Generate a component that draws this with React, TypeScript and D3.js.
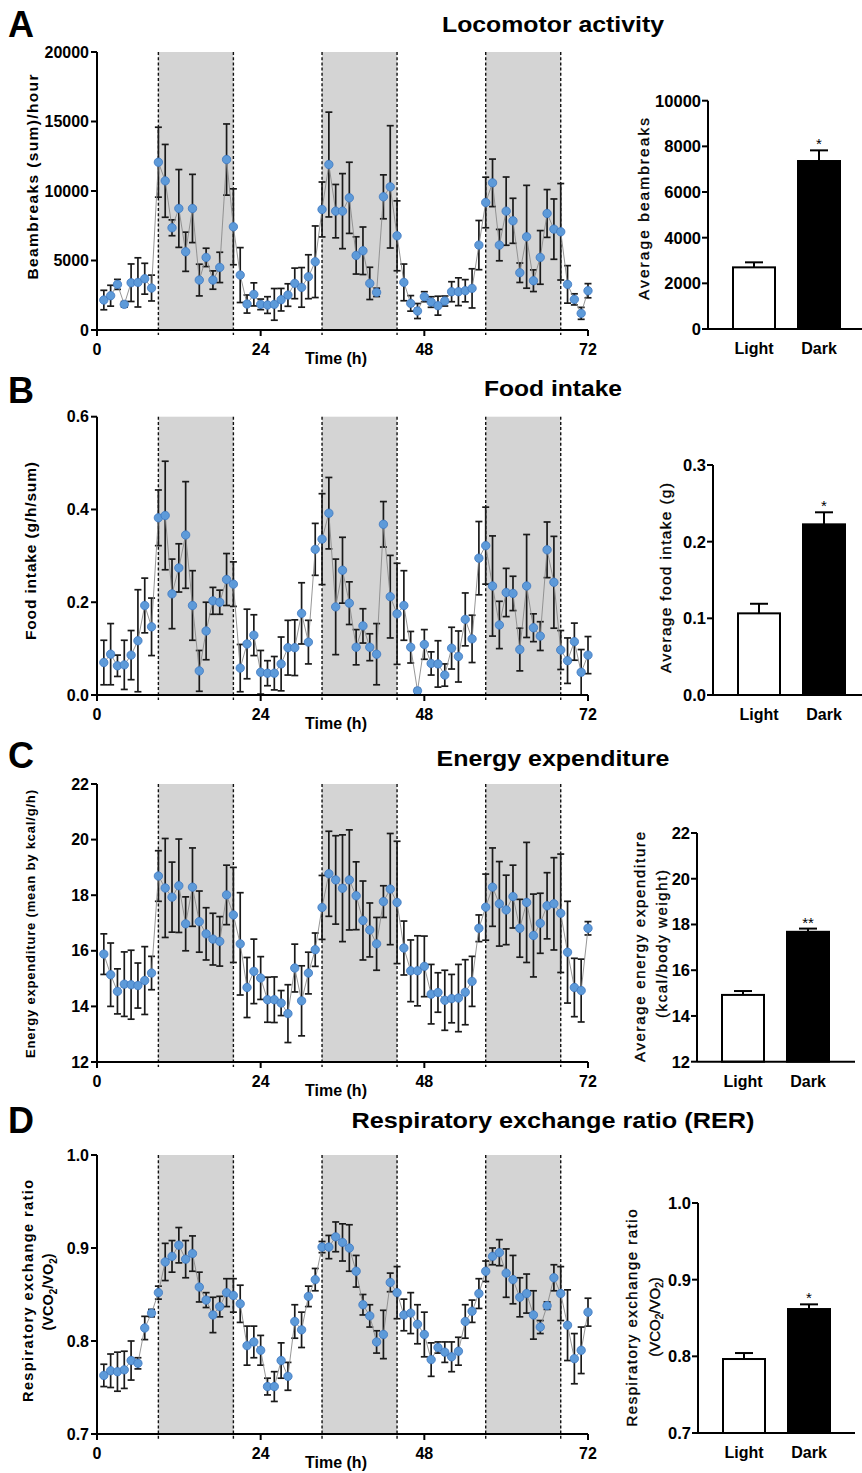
import React from 'react';
import * as d3 from 'd3';

const FONT = "'Liberation Sans', Arial, Helvetica, sans-serif";

// ---------- Time-course data (hourly means and SEM) ----------
const locoMean = [2156,2467,3281,1844,3401,3425,3689,3018,12072,10730,7353,8743,5629,8743,3593,5222,3593,4503,12263,7425,3952,1868,2563,1844,1796,1844,2180,2515,3353,3066,3832,4910,8671,11904,8551,8551,9509,5365,5700,3353,2707,9581,10299,6778,3425,1916,1365,2395,2012,1749,2084,2754,2754,2826,2994,6108,9174,10587,6108,8551,7856,4120,6707,3545,5222,8383,7257,7066,3281,2204,1198,2826];
const locoErr = [700,750,360,200,1350,1770,1110,930,2515,2620,570,2800,1410,2455,1140,660,660,1090,2560,2730,1975,650,830,380,600,1140,810,810,1100,1425,1580,2575,1975,3770,1920,2700,2560,1340,1710,1160,300,1580,4400,2515,1320,560,540,360,380,680,360,720,1000,800,1410,1770,1820,1710,1130,2455,1620,700,3700,780,1930,1720,2170,3470,1350,400,430,510];

const foodMean = [0.070,0.088,0.063,0.065,0.086,0.117,0.193,0.147,0.382,0.387,0.218,0.274,0.345,0.193,0.052,0.138,0.203,0.200,0.249,0.239,0.058,0.110,0.129,0.049,0.047,0.047,0.067,0.102,0.102,0.176,0.114,0.314,0.336,0.392,0.190,0.269,0.198,0.103,0.149,0.103,0.088,0.368,0.212,0.175,0.193,0.103,0.009,0.109,0.068,0.067,0.043,0.101,0.083,0.163,0.121,0.295,0.322,0.235,0.151,0.221,0.219,0.098,0.235,0.145,0.127,0.313,0.243,0.097,0.074,0.115,0.049,0.086];
const foodErr = [0.048,0.066,0.023,0.053,0.053,0.110,0.059,0.062,0.060,0.117,0.075,0.052,0.115,0.075,0.044,0.062,0.029,0.026,0.056,0.048,0.051,0.075,0.044,0.047,0.027,0.036,0.058,0.059,0.060,0.066,0.047,0.056,0.098,0.077,0.103,0.071,0.046,0.038,0.037,0.029,0.066,0.049,0.089,0.109,0.075,0.034,0.005,0.032,0.025,0.050,0.024,0.045,0.055,0.057,0.051,0.079,0.083,0.108,0.051,0.052,0.037,0.046,0.111,0.030,0.031,0.060,0.099,0.042,0.049,0.040,0.049,0.040];

const energyMean = [15.88,15.14,14.54,14.80,14.78,14.75,14.93,15.20,18.69,18.26,17.93,18.34,16.97,18.29,17.05,16.61,16.42,16.34,18.01,17.29,16.25,14.68,15.26,15.02,14.24,14.24,14.12,13.74,15.38,14.20,15.20,16.04,17.56,18.77,18.55,18.25,18.55,17.98,17.09,16.75,16.25,17.77,18.22,17.74,16.10,15.28,15.28,15.44,14.44,14.50,14.22,14.28,14.30,14.51,14.90,16.81,17.57,18.29,17.69,17.47,17.95,16.81,17.74,16.55,16.99,17.62,17.69,17.35,15.95,14.68,14.57,16.81];
const energyErr = [0.73,1.14,0.81,1.16,1.24,0.81,1.22,0.60,0.91,1.78,1.26,1.68,0.97,1.41,1.10,0.94,0.93,0.89,1.07,1.71,1.84,1.08,1.16,0.77,0.81,0.82,0.45,1.04,0.86,1.26,0.75,0.60,1.15,1.53,1.59,1.92,1.80,1.22,1.42,0.97,0.95,0.57,2.00,2.20,0.97,1.11,1.26,1.09,1.07,0.71,1.08,0.87,1.21,1.17,0.90,0.48,1.19,1.41,1.52,1.25,1.13,1.04,2.16,1.49,1.08,1.19,1.66,2.13,1.83,1.05,1.13,0.24];

const rerMean = [0.763,0.768,0.767,0.769,0.779,0.776,0.814,0.830,0.852,0.885,0.891,0.903,0.888,0.894,0.858,0.844,0.828,0.837,0.852,0.849,0.840,0.795,0.799,0.790,0.751,0.751,0.779,0.762,0.821,0.812,0.848,0.866,0.901,0.901,0.912,0.906,0.900,0.875,0.839,0.827,0.799,0.807,0.863,0.852,0.828,0.830,0.818,0.807,0.780,0.793,0.788,0.783,0.789,0.821,0.832,0.851,0.875,0.891,0.895,0.873,0.866,0.847,0.851,0.828,0.815,0.838,0.868,0.851,0.817,0.781,0.790,0.831];
const rerErr = [0.012,0.018,0.021,0.020,0.021,0.006,0.0125,0.004,0.007,0.020,0.017,0.019,0.020,0.019,0.016,0.008,0.019,0.011,0.015,0.018,0.020,0.021,0.017,0.016,0.009,0.016,0.019,0.015,0.018,0.019,0.011,0.012,0.006,0.0125,0.016,0.020,0.025,0.017,0.011,0.012,0.012,0.026,0.010,0.028,0.017,0.022,0.021,0.024,0.018,0.006,0.011,0.016,0.015,0.018,0.012,0.016,0.011,0.009,0.014,0.026,0.026,0.021,0.021,0.026,0.007,0.004,0.014,0.029,0.038,0.027,0.025,0.015];

// ---------- Light / Dark averages ----------
const barCategories = ['Light', 'Dark'];
const locoBarMean = [2700, 7358];
const locoBarErr = [220, 467];
const locoBarSig = ['', '*'];
const foodBarMean = [0.1065, 0.2226];
const foodBarErr = [0.0125, 0.0157];
const foodBarSig = ['', '*'];
const energyBarMean = [14.92, 17.68];
const energyBarErr = [0.17, 0.14];
const energyBarSig = ['', '**'];
const rerBarMean = [0.7965, 0.8617];
const rerBarErr = [0.0078, 0.0061];
const rerBarSig = ['', '*'];

// ---------- Axes ----------
const darkStarts = [9, 33, 57];
const darkEnds = [20, 44, 68];
const timeTicks = [0, 24, 48, 72];
const locoTicks = [0, 5000, 10000, 15000, 20000];
const foodTicks = [0, 0.2, 0.4, 0.6];
const energyTicks = [12, 14, 16, 18, 20, 22];
const rerTicks = [0.7, 0.8, 0.9, 1.0];
const locoBarTicks = [0, 2000, 4000, 6000, 8000, 10000];
const foodBarTicks = [0, 0.1, 0.2, 0.3];
const energyBarTicks = [12, 14, 16, 18, 20, 22];
const rerBarTicks = [0.7, 0.8, 0.9, 1.0];

const f0 = (d: number) => d3.format('d')(d);
const f1 = (d: number) => d3.format('.1f')(d);

const x = d3.scaleLinear().domain([0, 72]).range([97, 588]);

type Lab = { parts: any; x: number; cy: number; len?: number; size?: number; bold?: boolean };

const sub2 = (a: string, b: string, c: string) => (
  <>
    {a}<tspan baselineShift="sub" fontSize="10">2</tspan>{b}<tspan baselineShift="sub" fontSize="10">2</tspan>{c}
  </>
);

const panels = [
  {
    letter: 'A', letterY: 37, title: 'Locomotor activity', titleY: 32, titleLen: 222,
    mean: locoMean, err: locoErr, yDomain: [0, 20000], yRange: [330, 52], yTicks: locoTicks, fmt: f0,
    yLabels: [{ parts: 'Beambreaks (sum)/hour', x: 32, cy: 177, len: 205, size: 15.5 }] as Lab[],
    bar: {
      mean: locoBarMean, err: locoBarErr, sig: locoBarSig, domain: [0, 10000], range: [329, 100.7],
      ticks: locoBarTicks, fmt: f0, axisX: 708, xEnd: 862,
      labels: [{ parts: 'Average beambreaks', x: 643, cy: 209, len: 182, size: 15.5, bold: false }] as Lab[],
    },
  },
  {
    letter: 'B', letterY: 403, title: 'Food intake', titleY: 396, titleLen: 138,
    mean: foodMean, err: foodErr, yDomain: [0, 0.6], yRange: [695, 416.7], yTicks: foodTicks, fmt: f1,
    yLabels: [{ parts: 'Food intake (g/h/sum)', x: 30, cy: 551, len: 178, size: 15.5 }] as Lab[],
    bar: {
      mean: foodBarMean, err: foodBarErr, sig: foodBarSig, domain: [0, 0.3], range: [695, 465],
      ticks: foodBarTicks, fmt: f1, axisX: 713, xEnd: 862,
      labels: [{ parts: 'Average food intake (g)', x: 665, cy: 578, len: 190, size: 15.5, bold: false }] as Lab[],
    },
  },
  {
    letter: 'C', letterY: 768, title: 'Energy expenditure', titleY: 766, titleLen: 233,
    mean: energyMean, err: energyErr, yDomain: [12, 22], yRange: [1062, 784], yTicks: energyTicks, fmt: f0,
    yLabels: [{ parts: 'Energy expenditure (mean by kcal/g/h)', x: 30, cy: 924, len: 268, size: 13 }] as Lab[],
    bar: {
      mean: energyBarMean, err: energyBarErr, sig: energyBarSig, domain: [12, 22], range: [1061.7, 833],
      ticks: energyBarTicks, fmt: f0, axisX: 697, xEnd: 855,
      labels: [
        { parts: 'Average energy expenditure', x: 639, cy: 947, len: 230, size: 15, bold: false },
        { parts: '(kcal/body weight)', x: 661, cy: 944, len: 148, size: 15, bold: false },
      ] as Lab[],
    },
  },
  {
    letter: 'D', letterY: 1133, title: 'Respiratory exchange ratio (RER)', titleY: 1128, titleLen: 403,
    mean: rerMean, err: rerErr, yDomain: [0.7, 1.0], yRange: [1434, 1155], yTicks: rerTicks, fmt: f1,
    yLabels: [
      { parts: 'Respiratory exchange ratio', x: 28, cy: 1291, len: 222, size: 14.5 },
      { parts: sub2('(VCO', '/VO', ')'), x: 48, cy: 1292, size: 14.5 },
    ] as Lab[],
    bar: {
      mean: rerBarMean, err: rerBarErr, sig: rerBarSig, domain: [0.7, 1.0], range: [1433, 1203],
      ticks: rerBarTicks, fmt: f1, axisX: 698, xEnd: 855,
      labels: [
        { parts: 'Respiratory exchange ratio', x: 631, cy: 1318, len: 217, size: 15, bold: false },
        { parts: sub2('(VCO', '/VO', ')'), x: 654, cy: 1317, size: 15, bold: false },
      ] as Lab[],
    },
  },
];

function RotLabel({ l }: { l: Lab }) {
  return (
    <text
      transform={`translate(${l.x},${l.cy}) rotate(-90)`}
      textAnchor="middle"
      dominantBaseline="central"
      fontSize={l.size ?? 14}
      fontWeight={l.bold === false ? 'normal' : 'bold'}
      fontFamily={FONT}
      stroke={l.bold === false ? '#000' : 'none'}
      strokeWidth={l.bold === false ? 0.35 : 0}
      {...(l.len ? { textLength: l.len, lengthAdjust: 'spacing' } : {})}
    >
      {l.parts}
    </text>
  );
}

function LinePanel({ p }: { p: any }) {
  const y = d3.scaleLinear().domain(p.yDomain).range(p.yRange);
  const top = p.yRange[1];
  const bottom = p.yRange[0];
  const hours = p.mean.map((_: number, i: number) => i + 1);
  const line = d3.line<number>().x((h) => x(h)).y((h) => y(p.mean[h - 1]));
  const cap = 3.5;
  return (
    <g>
      {darkStarts.map((s, i) => (
        <rect key={'s' + i} x={x(s)} y={top} width={x(darkEnds[i]) - x(s)} height={bottom - top} fill="#d4d4d4" />
      ))}
      {[...darkStarts, ...darkEnds].map((s, i) => (
        <line key={'d' + i} x1={x(s)} x2={x(s)} y1={top} y2={bottom + 5} stroke="#111" strokeWidth={1.4} strokeDasharray="3,2.2" />
      ))}
      {hours.map((h: number) => {
        const m = p.mean[h - 1], e = p.err[h - 1];
        const lo = y(m - e), hi = y(m + e);
        return (
          <g key={'e' + h} stroke="#1a1a1a" strokeWidth={1.7}>
            <line x1={x(h)} x2={x(h)} y1={lo} y2={hi} />
            <line x1={x(h) - cap} x2={x(h) + cap} y1={hi} y2={hi} />
            <line x1={x(h) - cap} x2={x(h) + cap} y1={lo} y2={lo} />
          </g>
        );
      })}
      <path d={line(hours) || ''} fill="none" stroke="#8a8a8a" strokeWidth={0.9} />
      {hours.map((h: number) => (
        <circle key={'c' + h} cx={x(h)} cy={y(p.mean[h - 1])} r={4.2} fill="#5d9ad9" stroke="#3d77c0" strokeWidth={0.8} />
      ))}
      {/* axes */}
      <line x1={x(0)} x2={x(0)} y1={top} y2={bottom} stroke="#000" strokeWidth={2} />
      <line x1={x(0)} x2={x(72)} y1={bottom} y2={bottom} stroke="#000" strokeWidth={2} />
      {p.yTicks.map((t: number) => (
        <g key={'yt' + t}>
          <line x1={x(0) - 6} x2={x(0)} y1={y(t)} y2={y(t)} stroke="#000" strokeWidth={2} />
          <text x={x(0) - 8} y={y(t)} textAnchor="end" dominantBaseline="central" fontSize={16} fontWeight="bold" fontFamily={FONT}>
            {p.fmt(t)}
          </text>
        </g>
      ))}
      {timeTicks.map((t) => (
        <g key={'xt' + t}>
          <line x1={x(t)} x2={x(t)} y1={bottom} y2={bottom + 6} stroke="#000" strokeWidth={2} />
          <text x={x(t)} y={bottom + 25} textAnchor="middle" fontSize={16} fontWeight="bold" fontFamily={FONT}>
            {t}
          </text>
        </g>
      ))}
      <text x={336} y={bottom + 34} textAnchor="middle" fontSize={16} fontWeight="bold" fontFamily={FONT}>
        Time (h)
      </text>
      {p.yLabels.map((l: Lab, i: number) => <RotLabel key={'yl' + i} l={l} />)}
    </g>
  );
}

function BarPanel({ b }: { b: any }) {
  const y = d3.scaleLinear().domain(b.domain).range(b.range);
  const xb = d3.scalePoint<string>().domain(barCategories).range([b.axisX + 46, b.axisX + 111]);
  const bw = 42;
  const base = b.range[0];
  return (
    <g>
      {barCategories.map((c, i) => {
        const cx = xb(c) as number;
        const top = y(b.mean[i]);
        const et = y(b.mean[i] + b.err[i]);
        return (
          <g key={c}>
            <line x1={cx} x2={cx} y1={top} y2={et} stroke="#000" strokeWidth={2} />
            <line x1={cx - 9} x2={cx + 9} y1={et} y2={et} stroke="#000" strokeWidth={2} />
            <rect x={cx - bw / 2} y={top} width={bw} height={base - top} fill={i === 0 ? '#fff' : '#000'} stroke="#000" strokeWidth={2} />
            {b.sig[i] && (
              <text x={cx} y={et - 1} textAnchor="middle" fontSize={15} fontFamily={FONT}>
                {b.sig[i]}
              </text>
            )}
            <text x={cx} y={base + 25} textAnchor="middle" fontSize={16} fontWeight="bold" fontFamily={FONT}>
              {c}
            </text>
          </g>
        );
      })}
      <line x1={b.axisX} x2={b.axisX} y1={b.range[1]} y2={base} stroke="#000" strokeWidth={2} />
      <line x1={b.axisX} x2={b.xEnd} y1={base} y2={base} stroke="#000" strokeWidth={2} />
      {b.ticks.map((t: number) => (
        <g key={'bt' + t}>
          <line x1={b.axisX - 6} x2={b.axisX} y1={y(t)} y2={y(t)} stroke="#000" strokeWidth={2} />
          <text x={b.axisX - 7} y={y(t)} textAnchor="end" dominantBaseline="central" fontSize={16.5} fontWeight="bold" fontFamily={FONT}>
            {b.fmt(t)}
          </text>
        </g>
      ))}
      {b.labels.map((l: Lab, i: number) => <RotLabel key={'bl' + i} l={l} />)}
    </g>
  );
}

export default function App() {
  return (
    <svg width={862} height={1473} style={{ position: 'absolute', left: 0, top: 0, background: '#fff' }} fontFamily={FONT}>
      <rect x={0} y={0} width={862} height={1473} fill="#fff" />
      {panels.map((p) => (
        <g key={p.letter}>
          <text x={8} y={p.letterY} fontSize={36} fontWeight="bold" fontFamily={FONT}>{p.letter}</text>
          <text x={553} y={p.titleY} textAnchor="middle" fontSize={22} fontWeight="bold" fontFamily={FONT}
            textLength={p.titleLen} lengthAdjust="spacingAndGlyphs">{p.title}</text>
          <LinePanel p={p} />
          <BarPanel b={p.bar} />
        </g>
      ))}
    </svg>
  );
}
